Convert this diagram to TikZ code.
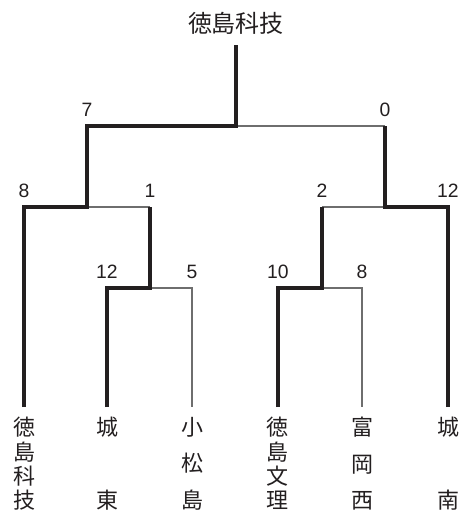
\documentclass[tikz,border=0pt]{standalone}
\usepackage{fontspec}
\setmainfont{Liberation Sans}
\newfontfamily\cjk{Noto Sans CJK JP}
\newcommand\tightlines{\lineskiplimit=-100pt\relax\lineskip=0pt\relax}
\begin{document}
\begin{tikzpicture}[x=0.75pt,y=-0.75pt,
  win/.style={line width=3pt,color={rgb,255:red,35;green,31;blue,32},line join=miter},
  lose/.style={line width=0.9pt,color={rgb,255:red,110;green,110;blue,110}},
  score/.style={font=\fontsize{14.5}{16}\selectfont,inner sep=0pt,anchor=base,text={rgb,255:red,35;green,31;blue,32}},
  team/.style={font={\cjk\fontsize{16.5}{18.25}\selectfont\tightlines},inner sep=0pt,anchor=north,align=center,text={rgb,255:red,35;green,31;blue,32}}]
\useasboundingbox (0,0) rectangle (459,512);
% champion
\node[font=\cjk\fontsize{18}{20}\selectfont,inner sep=0pt,text={rgb,255:red,35;green,31;blue,32}] (champ) at (236,23) {徳島科技};
% coordinates
\coordinate (top) at (236,45);
\coordinate (f) at (236,126);
\coordinate (fL) at (87,126);
\coordinate (fR) at (385,126);
\coordinate (sL1) at (24,207);
\coordinate (sLm) at (87,207);
\coordinate (sL2) at (150,207);
\coordinate (sR1) at (322,207);
\coordinate (sRm) at (385,207);
\coordinate (sR2) at (448,207);
\coordinate (qL1) at (107,288);
\coordinate (qLm) at (150,288);
\coordinate (qL2) at (192,288);
\coordinate (qR1) at (278,288);
\coordinate (qRm) at (322,288);
\coordinate (qR2) at (362,288);
\coordinate (e1) at (24,407);
\coordinate (e2) at (107,407);
\coordinate (e3) at (192,407);
\coordinate (e4) at (278,407);
\coordinate (e5) at (362,407);
\coordinate (e6) at (448,407);
% teams
\node[team] (t1) at (24,417) {徳\\島\\科\\技};
\node[team] (t2) at (107,417) {城\\[36.5pt]東};
\node[team] (t3) at (192,417) {小\\[9.1pt]松\\[9.1pt]島};
\node[team] (t4) at (278,417) {徳\\島\\文\\理};
\node[team] (t5) at (362,417) {富\\[9.1pt]岡\\[9.1pt]西};
\node[team] (t6) at (448,417) {城\\[36.5pt]南};
% thin lines
\draw[lose] (f) -- (fR);
\draw[lose] (sLm) -- (sL2);
\draw[lose] (sR1) -- (sRm);
\draw[lose] (qLm) -- (qL2) -- (e3);
\draw[lose] (qRm) -- (qR2) -- (e5);
% thick lines
\draw[win] (e1) -- (sL1) -- (sLm) -- (fL) -- (f) -- (top);
\draw[win] (e2) -- (qL1) -- (qLm) -- (sL2);
\draw[win] (e6) -- (sR2) -- (sRm) -- (fR);
\draw[win] (e4) -- (qR1) -- (qRm) -- (sR1);
% scores
\node[score] (s7) at (87,116) {7};
\node[score] (s0) at (385,116) {0};
\node[score] (s8a) at (24,197) {8};
\node[score] (s1) at (150,197) {1};
\node[score] (s2) at (322,197) {2};
\node[score] (s12a) at (448,197) {12};
\node[score] (s12b) at (107,278) {12};
\node[score] (s5) at (192,278) {5};
\node[score] (s10) at (278,278) {10};
\node[score] (s8b) at (362,278) {8};
\end{tikzpicture}
\end{document}
